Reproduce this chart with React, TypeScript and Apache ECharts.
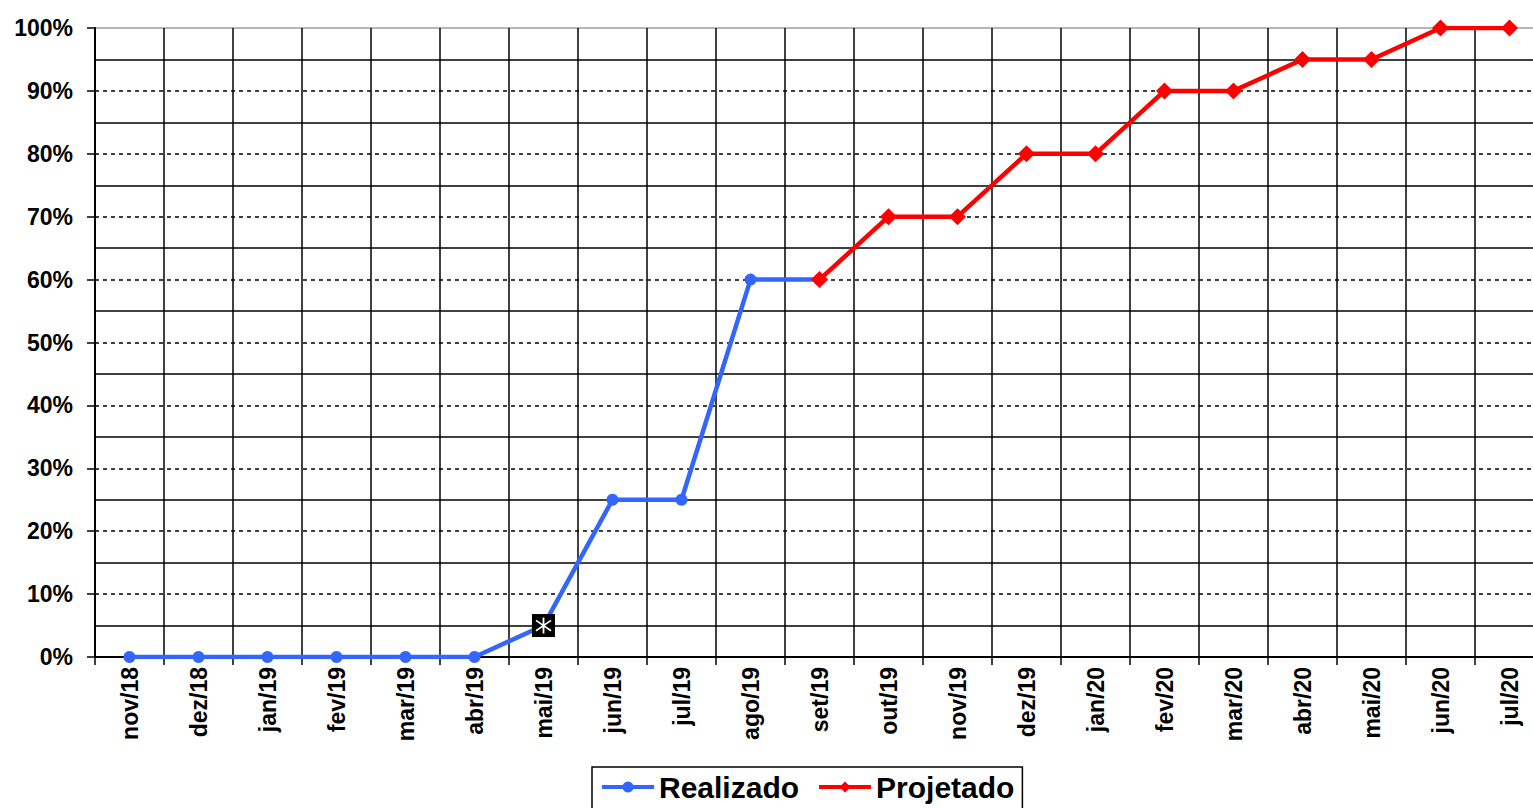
import React, { useEffect, useRef } from "react";
import * as echarts from "echarts";

const categories = [
  "nov/18", "dez/18", "jan/19", "fev/19", "mar/19", "abr/19", "mai/19",
  "jun/19", "jul/19", "ago/19", "set/19", "out/19", "nov/19", "dez/19",
  "jan/20", "fev/20", "mar/20", "abr/20", "mai/20", "jun/20", "jul/20",
];

const realizado: (number | string)[] = [
  0, 0, 0, 0, 0, 0, 5, 25, 25, 60, 60,
  "-", "-", "-", "-", "-", "-", "-", "-", "-", "-",
];

const projetado: (number | string)[] = [
  "-", "-", "-", "-", "-", "-", "-", "-", "-", "-",
  60, 70, 70, 80, 80, 90, 90, 95, 95, 100, 100,
];

const highlightCategory = "mai/19";
const highlightValue = 5;

const yTicks = { min: 0, max: 100, interval: 10 };

const FONT = "'Liberation Sans', Arial, sans-serif";

const asteriskPath =
  "path://M9,0h2v20h-2z M1.2,4.3L2.2,2.6L18.8,15.7L17.8,17.4z M17.8,2.6L18.8,4.3L2.2,17.4L1.2,15.7z";

export default function App() {
  const ref = useRef<HTMLDivElement>(null);

  useEffect(() => {
    if (!ref.current) return;
    const chart = echarts.init(ref.current, undefined, { renderer: "svg" });
    chart.setOption({
      animation: false,
      backgroundColor: "#fff",
      grid: {
        left: 95,
        right: 0,
        top: 28,
        bottom: 151,
        show: true,
        borderColor: "#a0a0a0",
        borderWidth: 1.5,
        backgroundColor: "transparent",
      },
      legend: {
        data: ["Realizado", "Projetado"],
        left: 592,
        top: 767,
        orient: "horizontal",
        borderColor: "#000",
        borderWidth: 1.5,
        padding: [5, 8, 10, 8],
        itemWidth: 52,
        itemHeight: 14,
        itemGap: 18,
        lineStyle: { width: 4 },
        textStyle: {
          fontFamily: FONT,
          fontWeight: "bold",
          fontSize: 30,
          color: "#000",
        },
      },
      xAxis: {
        type: "category",
        data: categories,
        boundaryGap: true,
        axisLine: { show: true, lineStyle: { color: "#000", width: 2 } },
        axisTick: { show: true, length: 8, lineStyle: { color: "#000", width: 1.5 } },
        splitLine: { show: true, lineStyle: { color: "#000", width: 1.5 } },
        axisLabel: {
          rotate: 90,
          margin: 10,
          fontFamily: FONT,
          fontWeight: "bold",
          fontSize: 23,
          color: "#000",
        },
      },
      yAxis: {
        type: "value",
        min: yTicks.min,
        max: yTicks.max,
        interval: yTicks.interval,
        axisLine: { show: true, lineStyle: { color: "#000", width: 2 } },
        axisTick: { show: true, length: 8, lineStyle: { color: "#000", width: 1.5 } },
        axisLabel: {
          formatter: "{value}%",
          margin: 22,
          fontFamily: FONT,
          fontWeight: "bold",
          fontSize: 23,
          color: "#000",
        },
        splitLine: {
          show: true,
          showMinLine: false,
          showMaxLine: false,
          lineStyle: { color: "#000", width: 1.6, type: [4, 4] },
        },
        minorTick: { show: false, splitNumber: 2 },
        minorSplitLine: { show: true, lineStyle: { color: "#000", width: 1.5 } },
      },
      series: [
        {
          name: "Realizado",
          type: "line",
          data: realizado,
          symbol: "circle",
          symbolSize: 12,
          connectNulls: false,
          lineStyle: { color: "#3366ff", width: 4.5 },
          itemStyle: { color: "#3366ff" },
          z: 3,
        },
        {
          name: "Projetado",
          type: "line",
          data: projetado,
          symbol: "diamond",
          symbolSize: 17,
          lineStyle: { color: "#ff0000", width: 4.5 },
          itemStyle: { color: "#ff0000" },
          z: 4,
        },
        {
          name: "marker",
          type: "scatter",
          data: [[highlightCategory, highlightValue]],
          symbol: "rect",
          symbolSize: 23,
          itemStyle: { color: "#000", opacity: 1 },
          z: 5,
          silent: true,
        },
        {
          name: "markerStar",
          type: "scatter",
          data: [[highlightCategory, highlightValue]],
          symbol: asteriskPath,
          symbolSize: 16,
          itemStyle: { color: "#fff", opacity: 1 },
          z: 6,
          silent: true,
        },
      ],
    });
    return () => chart.dispose();
  }, []);

  return (
    <div
      style={{
        position: "absolute",
        left: 0,
        top: 0,
        width: 1533,
        height: 808,
        overflow: "hidden",
        background: "#fff",
      }}
    >
      <div ref={ref} style={{ width: 1544, height: 808 }} />
    </div>
  );
}
